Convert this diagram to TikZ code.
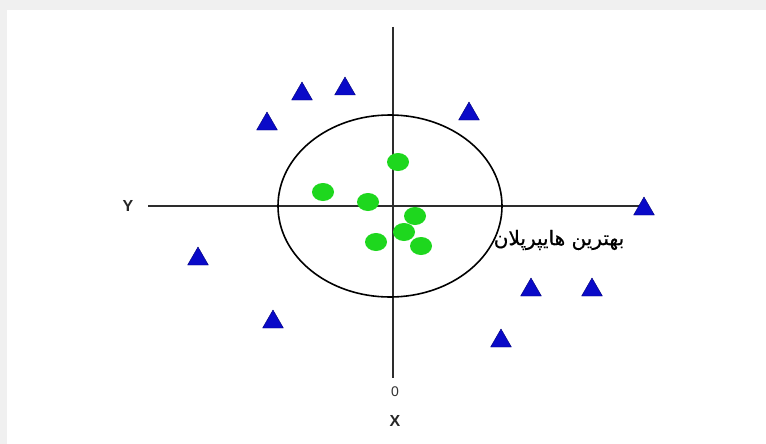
\documentclass[tikz,border=0pt]{standalone}
\usepackage{fontspec}
\setmainfont{Liberation Sans}
\newfontfamily\arabicfont[Script=Arabic,FakeBold=0.6]{DejaVu Sans}
\TeXXeTstate=1
\usetikzlibrary{shapes.geometric}
\definecolor{bgframe}{RGB}{240,240,240}
\definecolor{axiscol}{RGB}{45,45,45}
\definecolor{dotgreen}{RGB}{30,215,30}
\definecolor{triblue}{RGB}{10,10,200}
\definecolor{triedge}{RGB}{0,0,120}
\tikzset{
  axis/.style={draw=axiscol, line width=1.7pt},
  tri/.style={regular polygon, regular polygon sides=3, minimum size=24pt, inner sep=0pt, fill=triblue, draw=triedge, line width=0.4pt},
  dot/.style={ellipse, minimum width=22pt, minimum height=18pt, inner sep=0pt, fill=dotgreen},
  axlabel/.style={font=\bfseries\fontsize{16}{16}\selectfont, text=black!85},
  zerolabel/.style={font=\fontsize{14}{14}\selectfont, text=black!80},
  hyper/.style={draw=black, line width=1.6pt, ellipse, minimum width=224pt, minimum height=182pt, inner sep=0pt}
}
\begin{document}
\begin{tikzpicture}[x=1pt,y=-1pt]
\fill[bgframe] (0,0) rectangle (766,444);
\fill[white] (7,10) rectangle (766,444);
\useasboundingbox (0,0) rectangle (766,444);
% axes
\coordinate (vtop) at (393,27);
\coordinate (vbot) at (393,378);
\coordinate (hleft) at (148,206);
\coordinate (hright) at (640,206);
\draw[axis] (vtop) -- (vbot);
\draw[axis, line width=1.4pt] (hleft) -- (hright);
% hyperplane circle
\node[hyper] (circ) at (390,206) {};
% labels
\node[axlabel] (ylab) at (128,206) {Y};
\node[zerolabel] (zlab) at (395,392) {0};
\node[axlabel] (xlab) at (395,421) {X};
\node[font=\fontsize{20}{20}\selectfont, inner sep=0pt] (hyp) at (559,240) {\arabicfont\beginR بهترین هایپرپلان\endR};
% green points
\node[dot] (g1) at (398,162) {};
\node[dot] (g2) at (323,192) {};
\node[dot] (g3) at (368,202) {};
\node[dot] (g4) at (415,216) {};
\node[dot] (g5) at (404,232) {};
\node[dot] (g6) at (376,242) {};
\node[dot] (g7) at (421,246) {};
% blue triangles
\node[tri] (t1) at (302,94) {};
\node[tri] (t2) at (345,89) {};
\node[tri] (t3) at (267,124) {};
\node[tri] (t4) at (469,114) {};
\node[tri] (t5) at (198,259) {};
\node[tri] (t6) at (273,322) {};
\node[tri] (t7) at (644,209) {};
\node[tri] (t8) at (531,290) {};
\node[tri] (t9) at (592,290) {};
\node[tri] (t10) at (501,341) {};
\end{tikzpicture}
\end{document}
